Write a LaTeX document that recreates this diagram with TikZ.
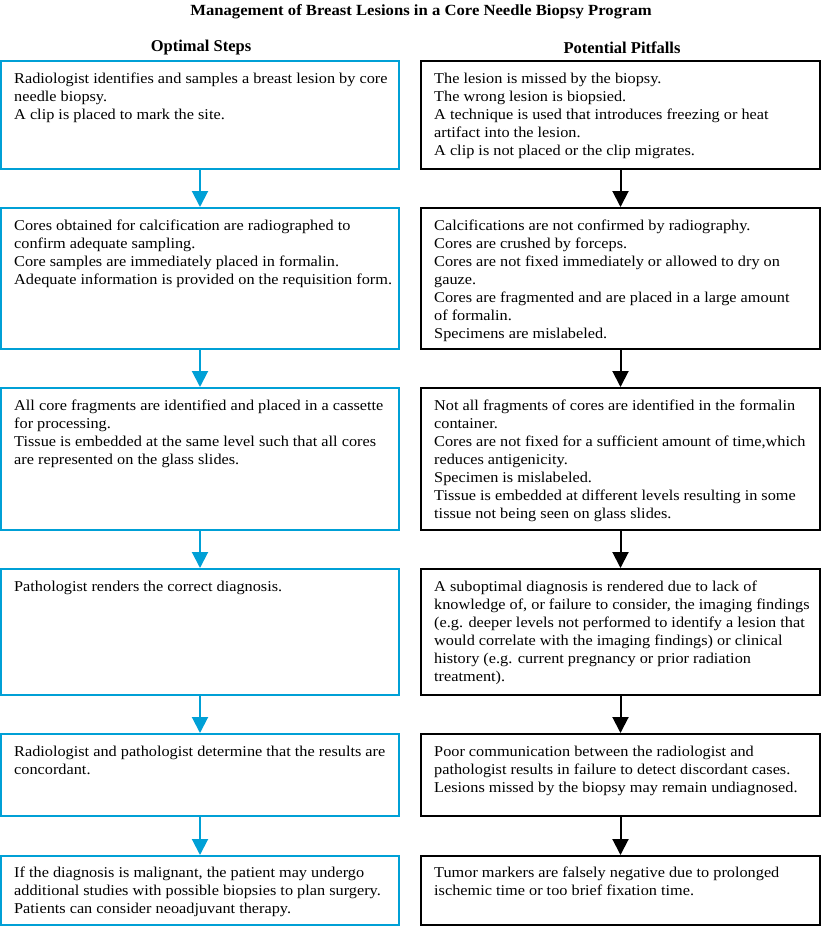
\documentclass[tikz,border=0pt]{standalone}
\usepackage{fontspec}
\usetikzlibrary{arrows.meta}
\setmainfont{Liberation Serif}
\newfontfamily\titlefont[FakeStretch=1.075]{Liberation Serif Bold}
\newfontfamily\headfont{Liberation Serif Bold}
\newfontfamily\bodyfont[FakeStretch=1.085]{Liberation Serif}
\begin{document}
\begin{tikzpicture}[x=1pt,y=-1pt,
  bluebox/.style={draw=stepblue,line width=2pt,minimum width=398pt,inner sep=0pt},
  blackbox/.style={draw=black,line width=2pt,minimum width=399pt,inner sep=0pt},
  bodytext/.style={anchor=north west,inner sep=0pt,align=left,font=\bodyfont\fontsize{15}{18}\selectfont},
  headtext/.style={inner sep=0pt,font=\headfont\fontsize{16.5}{20}\selectfont},
  titletext/.style={inner sep=0pt,font=\titlefont\fontsize{15.5}{20}\selectfont},
  bluearrow/.style={draw=stepblue,line width=2pt,-{Triangle[width=16pt,length=16pt]}},
  blackarrow/.style={draw=black,line width=2pt,-{Triangle[width=16pt,length=16pt]}}
]
\definecolor{stepblue}{RGB}{0,160,214}
\useasboundingbox (0,0) rectangle (822,927);
\node[titletext] (title) at (421,12) {Management of Breast Lesions in a Core Needle Biopsy Program};
\node[headtext] (hl) at (201,48) {Optimal Steps};
\node[headtext] (hr) at (622,48) {Potential Pitfalls};

\node[bluebox,minimum height=108pt] (L1) at (200,115) {};
\node[bluebox,minimum height=141pt] (L2) at (200,278.5) {};
\node[bluebox,minimum height=142pt] (L3) at (200,459) {};
\node[bluebox,minimum height=126pt] (L4) at (200,632) {};
\node[bluebox,minimum height=82pt] (L5) at (200,775) {};
\node[bluebox,minimum height=69pt] (L6) at (200,890.5) {};

\node[blackbox,minimum height=108pt] (R1) at (620.5,115) {};
\node[blackbox,minimum height=141pt] (R2) at (620.5,278.5) {};
\node[blackbox,minimum height=142pt] (R3) at (620.5,459) {};
\node[blackbox,minimum height=126pt] (R4) at (620.5,632) {};
\node[blackbox,minimum height=82pt] (R5) at (620.5,775) {};
\node[blackbox,minimum height=69pt] (R6) at (620.5,890.5) {};

\foreach \a/\b in {L1/L2,L2/L3,L3/L4,L4/L5,L5/L6} \draw[bluearrow] (\a.south) -- (\b.north);
\foreach \a/\b in {R1/R2,R2/R3,R3/R4,R4/R5,R5/R6} \draw[blackarrow] (\a.south) -- (\b.north);

\node[bodytext] (tl1) at ([xshift=14pt,yshift=-13pt]L1.north west) {Radiologist identifies and samples a breast lesion by core\\needle biopsy.\\A clip is placed to mark the site.};
\node[bodytext] (tl2) at ([xshift=14pt,yshift=-13pt]L2.north west) {Cores obtained for calcification are radiographed to\\confirm adequate sampling.\\Core samples are immediately placed in formalin.\\Adequate information is provided on the requisition form.};
\node[bodytext] (tl3) at ([xshift=14pt,yshift=-13pt]L3.north west) {All core fragments are identified and placed in a cassette\\for processing.\\Tissue is embedded at the same level such that all cores\\are represented on the glass slides.};
\node[bodytext] (tl4) at ([xshift=14pt,yshift=-13pt]L4.north west) {Pathologist renders the correct diagnosis.};
\node[bodytext] (tl5) at ([xshift=14pt,yshift=-13pt]L5.north west) {Radiologist and pathologist determine that the results are\\concordant.};
\node[bodytext] (tl6) at ([xshift=14pt,yshift=-12pt]L6.north west) {If the diagnosis is malignant, the patient may undergo\\additional studies with possible biopsies to plan surgery.\\Patients can consider neoadjuvant therapy.};

\node[bodytext] (tr1) at ([xshift=14pt,yshift=-13pt]R1.north west) {The lesion is missed by the biopsy.\\The wrong lesion is biopsied.\\A technique is used that introduces freezing or heat\\artifact into the lesion.\\A clip is not placed or the clip migrates.};
\node[bodytext] (tr2) at ([xshift=14pt,yshift=-13pt]R2.north west) {Calcifications are not confirmed by radiography.\\Cores are crushed by forceps.\\Cores are not fixed immediately or allowed to dry on\\gauze.\\Cores are fragmented and are placed in a large amount\\of formalin.\\Specimens are mislabeled.};
\node[bodytext] (tr3) at ([xshift=14pt,yshift=-13pt]R3.north west) {Not all fragments of cores are identified in the formalin\\container.\\Cores are not fixed for a sufficient amount of time,which\\reduces antigenicity.\\Specimen is mislabeled.\\Tissue is embedded at different levels resulting in some\\tissue not being seen on glass slides.};
\node[bodytext] (tr4) at ([xshift=14pt,yshift=-13pt]R4.north west) {A suboptimal diagnosis is rendered due to lack of\\knowledge of, or failure to consider, the imaging findings\\(e.g. deeper levels not performed to identify a lesion that\\would correlate with the imaging findings) or clinical\\history (e.g. current pregnancy or prior radiation\\treatment).};
\node[bodytext] (tr5) at ([xshift=14pt,yshift=-13pt]R5.north west) {Poor communication between the radiologist and\\pathologist results in failure to detect discordant cases.\\Lesions missed by the biopsy may remain undiagnosed.};
\node[bodytext] (tr6) at ([xshift=14pt,yshift=-12pt]R6.north west) {Tumor markers are falsely negative due to prolonged\\ischemic time or too brief fixation time.};
\end{tikzpicture}
\end{document}
